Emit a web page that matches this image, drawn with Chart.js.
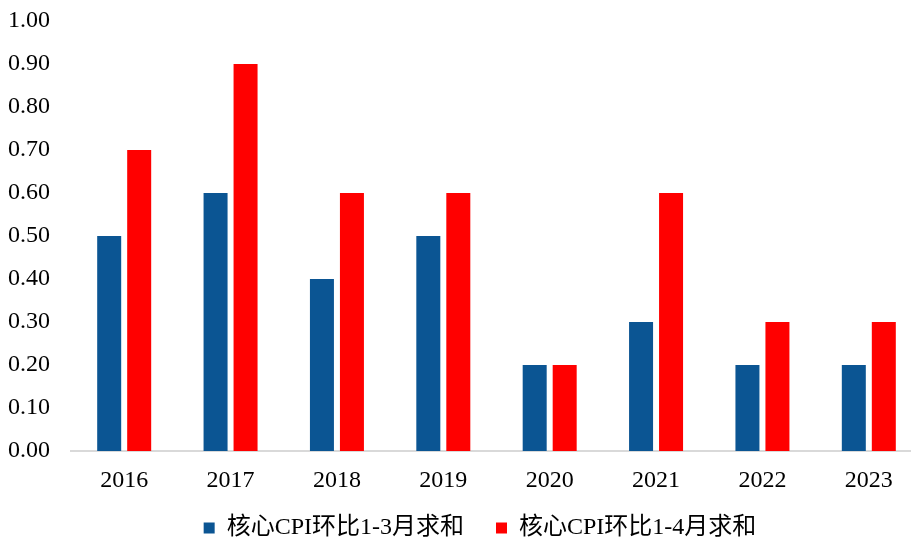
<!DOCTYPE html>
<html>
<head>
<meta charset="utf-8">
<script src="https://cdn.jsdelivr.net/npm/chart.js@4.4.1/dist/chart.umd.min.js"></script>
<style>
  html, body { margin: 0; padding: 0; background: #fff; overflow: hidden; width: 911px; height: 542px; }
  #wrap { position: absolute; left: 0; top: 0; width: 922px; height: 572px; }
</style>
</head>
<body>
<div id="wrap"><canvas id="c"></canvas></div>
<script>
const categories = ['2016', '2017', '2018', '2019', '2020', '2021', '2022', '2023'];
const series1Name = '核心CPI环比1-3月求和';
const series1Values = [0.5, 0.6, 0.4, 0.5, 0.2, 0.3, 0.2, 0.2];
const series2Name = '核心CPI环比1-4月求和';
const series2Values = [0.7, 0.9, 0.6, 0.6, 0.2, 0.6, 0.3, 0.3];
const yTicks = [0, 0.1, 0.2, 0.3, 0.4, 0.5, 0.6, 0.7, 0.8, 0.9, 1.0];

const fontFamily = '"Liberation Serif", "Times New Roman", "Noto Sans CJK SC", serif';

const legendShift = {
  id: 'legendShift',
  afterLayout(chart) {
    const l = chart.legend;
    if (!l) return;
    l.left += 15; l.right += 15;
    const h = l.height;
    l.top = 484; l.bottom = 484 + h;
  }
};

new Chart(document.getElementById('c'), {
  type: 'bar',
  data: {
    labels: categories,
    datasets: [
      { label: series1Name, data: series1Values, backgroundColor: '#0B5593', borderWidth: 0,
        categoryPercentage: 0.564, barPercentage: 0.8 },
      { label: series2Name, data: series2Values, backgroundColor: '#FF0000', borderWidth: 0,
        categoryPercentage: 0.564, barPercentage: 0.8 }
    ]
  },
  plugins: [legendShift],
  options: {
    responsive: true,
    maintainAspectRatio: false,
    animation: false,
    layout: { padding: { top: 21, right: 0, bottom: 0, left: 8 } },
    plugins: {
      tooltip: { enabled: false },
      legend: {
        position: 'bottom',
        labels: {
          boxWidth: 11, boxHeight: 11,
          padding: 32,
          color: '#000',
          font: { family: fontFamily, size: 24 }
        }
      }
    },
    scales: {
      x: {
        grid: { display: false, drawTicks: false },
        border: { display: true, color: '#d9d9d9', width: 2 },
        ticks: { color: '#000', font: { family: fontFamily, size: 24 }, padding: 15, maxRotation: 0 },
        afterFit: (s) => { s.height = 55; }
      },
      y: {
        min: 0, max: 1,
        grid: { display: false, drawTicks: false },
        border: { display: false },
        afterBuildTicks: (s) => { s.ticks = yTicks.map(v => ({ value: v })); },
        afterFit: (s) => { s.width = 63; },
        ticks: {
          color: '#000', padding: 0, crossAlign: 'far',
          font: { family: fontFamily, size: 24 },
          callback: (v) => Number(v).toFixed(2)
        }
      }
    }
  }
});
</script>
</body>
</html>
